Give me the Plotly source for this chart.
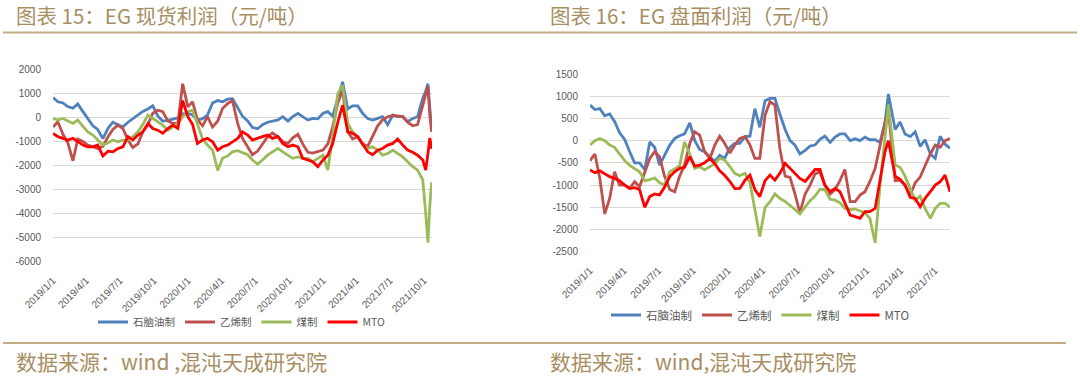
import plotly.graph_objects as go

# ---------------- 图表 15: EG 现货利润 ----------------
dates_15 = [
    "2019-01-01", "2019-01-14", "2019-01-28", "2019-02-10", "2019-02-24", "2019-03-09", "2019-03-23", "2019-04-05", "2019-04-19", "2019-05-02",
    "2019-05-16", "2019-05-30", "2019-06-12", "2019-06-26", "2019-07-09", "2019-07-23", "2019-08-05", "2019-08-19", "2019-09-01", "2019-09-15",
    "2019-09-28", "2019-10-12", "2019-10-25", "2019-11-08", "2019-11-21", "2019-12-05", "2019-12-18", "2020-01-01", "2020-01-14", "2020-01-27",
    "2020-02-10", "2020-02-23", "2020-03-08", "2020-03-22", "2020-04-04", "2020-04-18", "2020-05-01", "2020-05-15", "2020-05-28", "2020-06-11",
    "2020-06-24", "2020-07-08", "2020-07-21", "2020-08-04", "2020-08-17", "2020-09-01", "2020-09-14", "2020-09-28", "2020-10-11", "2020-10-25",
    "2020-11-07", "2020-11-21", "2020-12-04", "2020-12-18", "2021-01-01", "2021-01-14", "2021-01-27", "2021-02-10", "2021-02-23", "2021-03-09",
    "2021-03-22", "2021-04-05", "2021-04-18", "2021-05-02", "2021-05-15", "2021-05-29", "2021-06-11", "2021-06-25", "2021-07-09", "2021-07-22",
    "2021-08-05", "2021-08-18", "2021-09-01", "2021-09-14", "2021-09-28", "2021-10-06", "2021-10-12", "2021-10-17", "2021-10-22",
]
naphtha_15 = [
    830, 650, 600, 450, 380, 560, 240, -50, -350, -500,
    -880, -450, -200, -300, -400, -200, -50, 80, 250, 350,
    480, 50, -150, -120, -60, -20, 150, 170, 100, -110,
    -50, 100, 600, 700, 650, 760, 780, 400, 50, -150,
    -420, -470, -300, -200, -150, -100, 30, -150, 30, 170,
    30, -110, -40, -60, 170, 240, 50, 850, 1480, 350,
    480, 480, 170, -50, -110, -40, 30, -300, 100, 30,
    30, -180, -40, 30, 800, 1100, 1400, 400, -400,
]
ethylene_15 = [
    -400, -180, -700, -1050, -1800, -900, -1000, -1150, -1220, -1290,
    -1200, -800, -500, -320, -460, -940, -1250, -1100, -600, -300,
    170, 300, 240, -150, -250, -250, 1400, 440, 650, -100,
    -350, 30, -400, -150, 370, 580, 700, -250, -870, -1220,
    -1550, -1400, -1100, -800, -650, -800, -1010, -1080, -850, -700,
    -1100, -1450, -1480, -1430, -1360, -1100, -400, 600, 1150, -600,
    -900, -800, -1100, -1200, -800, -350, -100, 30, 80, 60,
    30, -200, -350, -300, 500, 900, 1300, 100, -600,
]
coal_15 = [
    -40, -110, -40, -150, -250, -110, -390, -600, -730, -940,
    -1150, -1050, -940, -1010, -940, -940, -800, -600, -300, 100,
    -40, -180, -320, -530, -390, -250, 30, 240, 300, -300,
    -900, -1150, -1360, -2200, -1700, -1600, -1430, -1380, -1450, -1550,
    -1770, -1940, -1770, -1570, -1430, -1290, -1430, -1570, -1700, -1640,
    -1700, -1700, -1840, -1700, -1570, -2190, -800, 1000, 1340, -250,
    -600, -800, -1150, -1290, -1220, -1360, -1570, -1500, -1360, -1500,
    -1640, -1840, -2050, -2190, -2600, -4000, -5200, -3700, -2700,
]
mto_15 = [
    -660, -800, -870, -940, -870, -1010, -1150, -1220, -1220, -1150,
    -1600, -1400, -1430, -1290, -1220, -800, -940, -730, -600, -250,
    -460, -530, -660, -460, -320, -460, 700, 30, -300, -1080,
    -940, -870, -1010, -1360, -1220, -1150, -1010, -870, -600, -730,
    -940, -850, -800, -730, -870, -800, -1080, -1220, -1150, -1220,
    -1700, -1770, -1840, -2050, -1770, -1570, -1100, -200, 510, -600,
    -660, -800, -1080, -1430, -1550, -1360, -1290, -1150, -1080, -900,
    -1150, -1360, -1450, -1570, -1770, -2190, -1500, -850, -1300,
]

# ---------------- 图表 16: EG 盘面利润 ----------------
dates_16 = [
    "2019-01-01", "2019-01-14", "2019-01-27", "2019-02-09", "2019-02-22", "2019-03-07", "2019-03-20", "2019-04-03", "2019-04-16", "2019-04-29",
    "2019-05-12", "2019-05-26", "2019-06-08", "2019-06-21", "2019-07-04", "2019-07-17", "2019-07-31", "2019-08-13", "2019-08-26", "2019-09-08",
    "2019-09-22", "2019-10-05", "2019-10-18", "2019-10-31", "2019-11-14", "2019-11-27", "2019-12-10", "2019-12-23", "2020-01-06", "2020-01-19",
    "2020-02-01", "2020-02-15", "2020-02-28", "2020-03-12", "2020-03-25", "2020-04-08", "2020-04-21", "2020-05-04", "2020-05-17", "2020-05-31",
    "2020-06-13", "2020-06-26", "2020-07-09", "2020-07-23", "2020-08-05", "2020-08-18", "2020-08-31", "2020-09-13", "2020-09-27", "2020-10-10",
    "2020-10-23", "2020-11-05", "2020-11-19", "2020-12-02", "2020-12-15", "2020-12-28", "2021-01-10", "2021-01-24", "2021-02-06", "2021-02-19",
    "2021-02-28", "2021-03-18", "2021-03-31", "2021-04-13", "2021-04-27", "2021-05-10", "2021-05-23", "2021-06-05", "2021-06-19", "2021-07-02",
    "2021-07-15", "2021-07-28", "2021-08-10",
]
naphtha_16 = [
    800, 700, 720, 560, 600, 430, 180, 20, -250, -500,
    -500, -650, -30, -150, -550, -330, -100, 50, 110, 150,
    400, 0, -200, -250, -360, -470, -330, -400, -150, -60,
    -60, 90, 100, 720, 300, 900, 950, 950, 600, 250,
    0, -100, -300, -220, -120, -100, 30, 100, -40, 80,
    150, 150, 0, 40, 0, 80, 20, 20, -40, 400,
    1050, 250, 420, 150, 90, 200, -130, 20, -300, -400,
    100, -80, -170,
]
ethylene_16 = [
    -450, -300, -850, -1650, -1300, -700, -1000, -1000, -1075, -925,
    -1040, -700, -400, -250, -360, -800, -1100, -1150, -800, -550,
    -60, 200, 125, -250, -400, -100, 100, -60, -280, -100,
    50, 90, -100, -400, -400, 575, 875, 800, -175, -800,
    -830, -1200, -1620, -1200, -1000, -750, -700, -1000, -1200, -1100,
    -900, -650, -1375, -1375, -1225, -1150, -925, -625, -100, 400,
    700, -900, -890, -1000, -1225, -950, -820, -550, -300, -100,
    -150, 0, 50,
]
coal_16 = [
    -100, 0, 50, 0, -100, -150, -300, -450, -560, -640,
    -700, -900, -880, -840, -950, -1000, -700, -640, -560, -30,
    -300, -625, -585, -660, -585, -520, -400, -435, -585, -735,
    -790, -735, -950, -1525, -2160, -1500, -1375, -1200, -1300, -1370,
    -1450, -1550, -1650, -1500, -1350, -1250, -1100, -1100, -1320, -1340,
    -1400, -1520, -1550, -1540, -1580, -1620, -1750, -2300, -1000, 100,
    800, -550, -600, -800, -1100, -1350, -1250, -1525, -1750, -1525,
    -1410, -1410, -1500,
]
mto_16 = [
    -660, -720, -680, -750, -810, -850, -900, -1000, -1080, -1060,
    -1100, -1500, -1260, -1200, -1220, -1050, -810, -700, -625, -600,
    -360, -575, -550, -500, -400, -520, -680, -780, -920, -1080,
    -1075, -890, -775, -1100, -1260, -900, -775, -890, -735, -510,
    -620, -750, -850, -920, -780, -650, -650, -1000, -1150, -1075,
    -1150, -1410, -1675, -1710, -1750, -1600, -1600, -1525, -900, -250,
    0, -800, -870, -1000, -1280, -1300, -1490, -1300, -1150, -1000,
    -925, -775, -1150,
]

series_names = ["石脑油制", "乙烯制", "煤制", "MTO"]
series_colors = ["#4F81BD", "#C0504D", "#9BBB59", "#FF0000"]

xtick_vals_15 = ["2019-01-01", "2019-04-01", "2019-07-01", "2019-10-01", "2020-01-01", "2020-04-01",
                 "2020-07-01", "2020-10-01", "2021-01-01", "2021-04-01", "2021-07-01", "2021-10-01"]
xtick_text_15 = ["2019/1/1", "2019/4/1", "2019/7/1", "2019/10/1", "2020/1/1", "2020/4/1",
                 "2020/7/1", "2020/10/1", "2021/1/1", "2021/4/1", "2021/7/1", "2021/10/1"]
ytick_vals_15 = [2000, 1000, 0, -1000, -2000, -3000, -4000, -5000, -6000]
ytick_text_15 = ["2000", "1000", "0", "-1000", "-2000", "-3000", "-4000", "-5000", "-6000"]

xtick_vals_16 = xtick_vals_15[:11]
xtick_text_16 = xtick_text_15[:11]
ytick_vals_16 = [1500, 1000, 500, 0, -500, -1000, -1500, -2000, -2500]
ytick_text_16 = ["1500", "1000", "500", "0", "-500", "-1000", "-1500", "-2000", "-2500"]

title_15 = "图表 15：EG 现货利润（元/吨）"
title_16 = "图表 16：EG 盘面利润（元/吨）"
source_15 = "数据来源：wind ,混沌天成研究院"
source_16 = "数据来源：wind,混沌天成研究院"

W, H = 1080, 379
def px(x):
    return x / W
def py(y):
    return 1 - y / H

fig = go.Figure()
for name, color, vals in zip(series_names, series_colors, [naphtha_15, ethylene_15, coal_15, mto_15]):
    fig.add_trace(go.Scatter(x=dates_15, y=vals, name=name, mode="lines",
                             line=dict(color=color, width=2.8),
                             xaxis="x", yaxis="y", legend="legend"))
for name, color, vals in zip(series_names, series_colors, [naphtha_16, ethylene_16, coal_16, mto_16]):
    fig.add_trace(go.Scatter(x=dates_16, y=vals, name=name, mode="lines",
                             line=dict(color=color, width=2.8),
                             xaxis="x2", yaxis="y2", legend="legend2"))

tickfont = dict(family="Liberation Sans, Arial, sans-serif", size=10, color="#595959")
legfont = dict(family="Noto Sans CJK SC", size=10.5, color="#595959")
legfont2 = dict(family="Noto Sans CJK SC", size=11.5, color="#595959")
gold = "#A88E62"
linegold = "#C3AD82"
headfont = dict(family="Noto Sans CJK SC", size=20.5, color=gold)
footfont = dict(family="Noto Sans CJK SC", size=21, color=gold)

xcommon = dict(type="date", tickangle=-45, showgrid=False, zeroline=False, showline=False, automargin=False,
               ticks="outside", ticklen=8, tickcolor="rgba(0,0,0,0)", tickfont=tickfont)
ycommon = dict(showgrid=True, gridcolor="#D9D9D9", gridwidth=1, zeroline=False, showline=False, automargin=False,
               ticks="outside", ticklen=9, tickcolor="rgba(0,0,0,0)", tickfont=tickfont)

fig.update_layout(
    width=W, height=H,
    margin=dict(l=0, r=0, t=0, b=0, pad=0, autoexpand=False),
    paper_bgcolor="white", plot_bgcolor="white",
    xaxis=dict(xcommon, domain=[px(53), px(432)], anchor="y",
               range=["2019-01-01", "2021-10-23"], tickvals=xtick_vals_15, ticktext=xtick_text_15),
    yaxis=dict(ycommon, domain=[py(261.8), py(69.3)], anchor="x",
               range=[-6000, 2000], tickvals=ytick_vals_15, ticktext=ytick_text_15),
    xaxis2=dict(xcommon, domain=[px(590), px(950)], anchor="y2",
                range=["2019-01-01", "2021-08-10"], tickvals=xtick_vals_16, ticktext=xtick_text_16),
    yaxis2=dict(ycommon, domain=[py(251.7), py(74)], anchor="x2",
                range=[-2500, 1500], tickvals=ytick_vals_16, ticktext=ytick_text_16),
    legend=dict(orientation="h", x=px(93), y=py(322), xanchor="left", yanchor="middle",
                font=legfont, bgcolor="rgba(0,0,0,0)", itemwidth=30, tracegroupgap=0),
    legend2=dict(orientation="h", x=px(606), y=py(315), xanchor="left", yanchor="middle",
                 font=legfont2, bgcolor="rgba(0,0,0,0)", itemwidth=30, tracegroupgap=0),
    showlegend=True,
    shapes=[
        dict(type="line", xref="paper", yref="paper", x0=px(3), x1=px(1077), y0=py(32.5), y1=py(32.5),
             line=dict(color=linegold, width=2)),
        dict(type="line", xref="paper", yref="paper", x0=px(3), x1=px(1066), y0=py(343), y1=py(343),
             line=dict(color=linegold, width=2)),
    ],
    annotations=[
        dict(text=title_15, xref="paper", yref="paper", x=px(14), y=py(15), xanchor="left", yanchor="middle",
             showarrow=False, font=headfont),
        dict(text=title_16, xref="paper", yref="paper", x=px(548), y=py(15), xanchor="left", yanchor="middle",
             showarrow=False, font=headfont),
        dict(text=source_15, xref="paper", yref="paper", x=px(14), y=py(361), xanchor="left", yanchor="middle",
             showarrow=False, font=footfont),
        dict(text=source_16, xref="paper", yref="paper", x=px(548), y=py(361), xanchor="left", yanchor="middle",
             showarrow=False, font=footfont),
    ],
)

fig.write_html("out.html", config={"displayModeBar": False},
               post_script="document.body.style.margin='0';document.body.style.overflow='hidden';")
